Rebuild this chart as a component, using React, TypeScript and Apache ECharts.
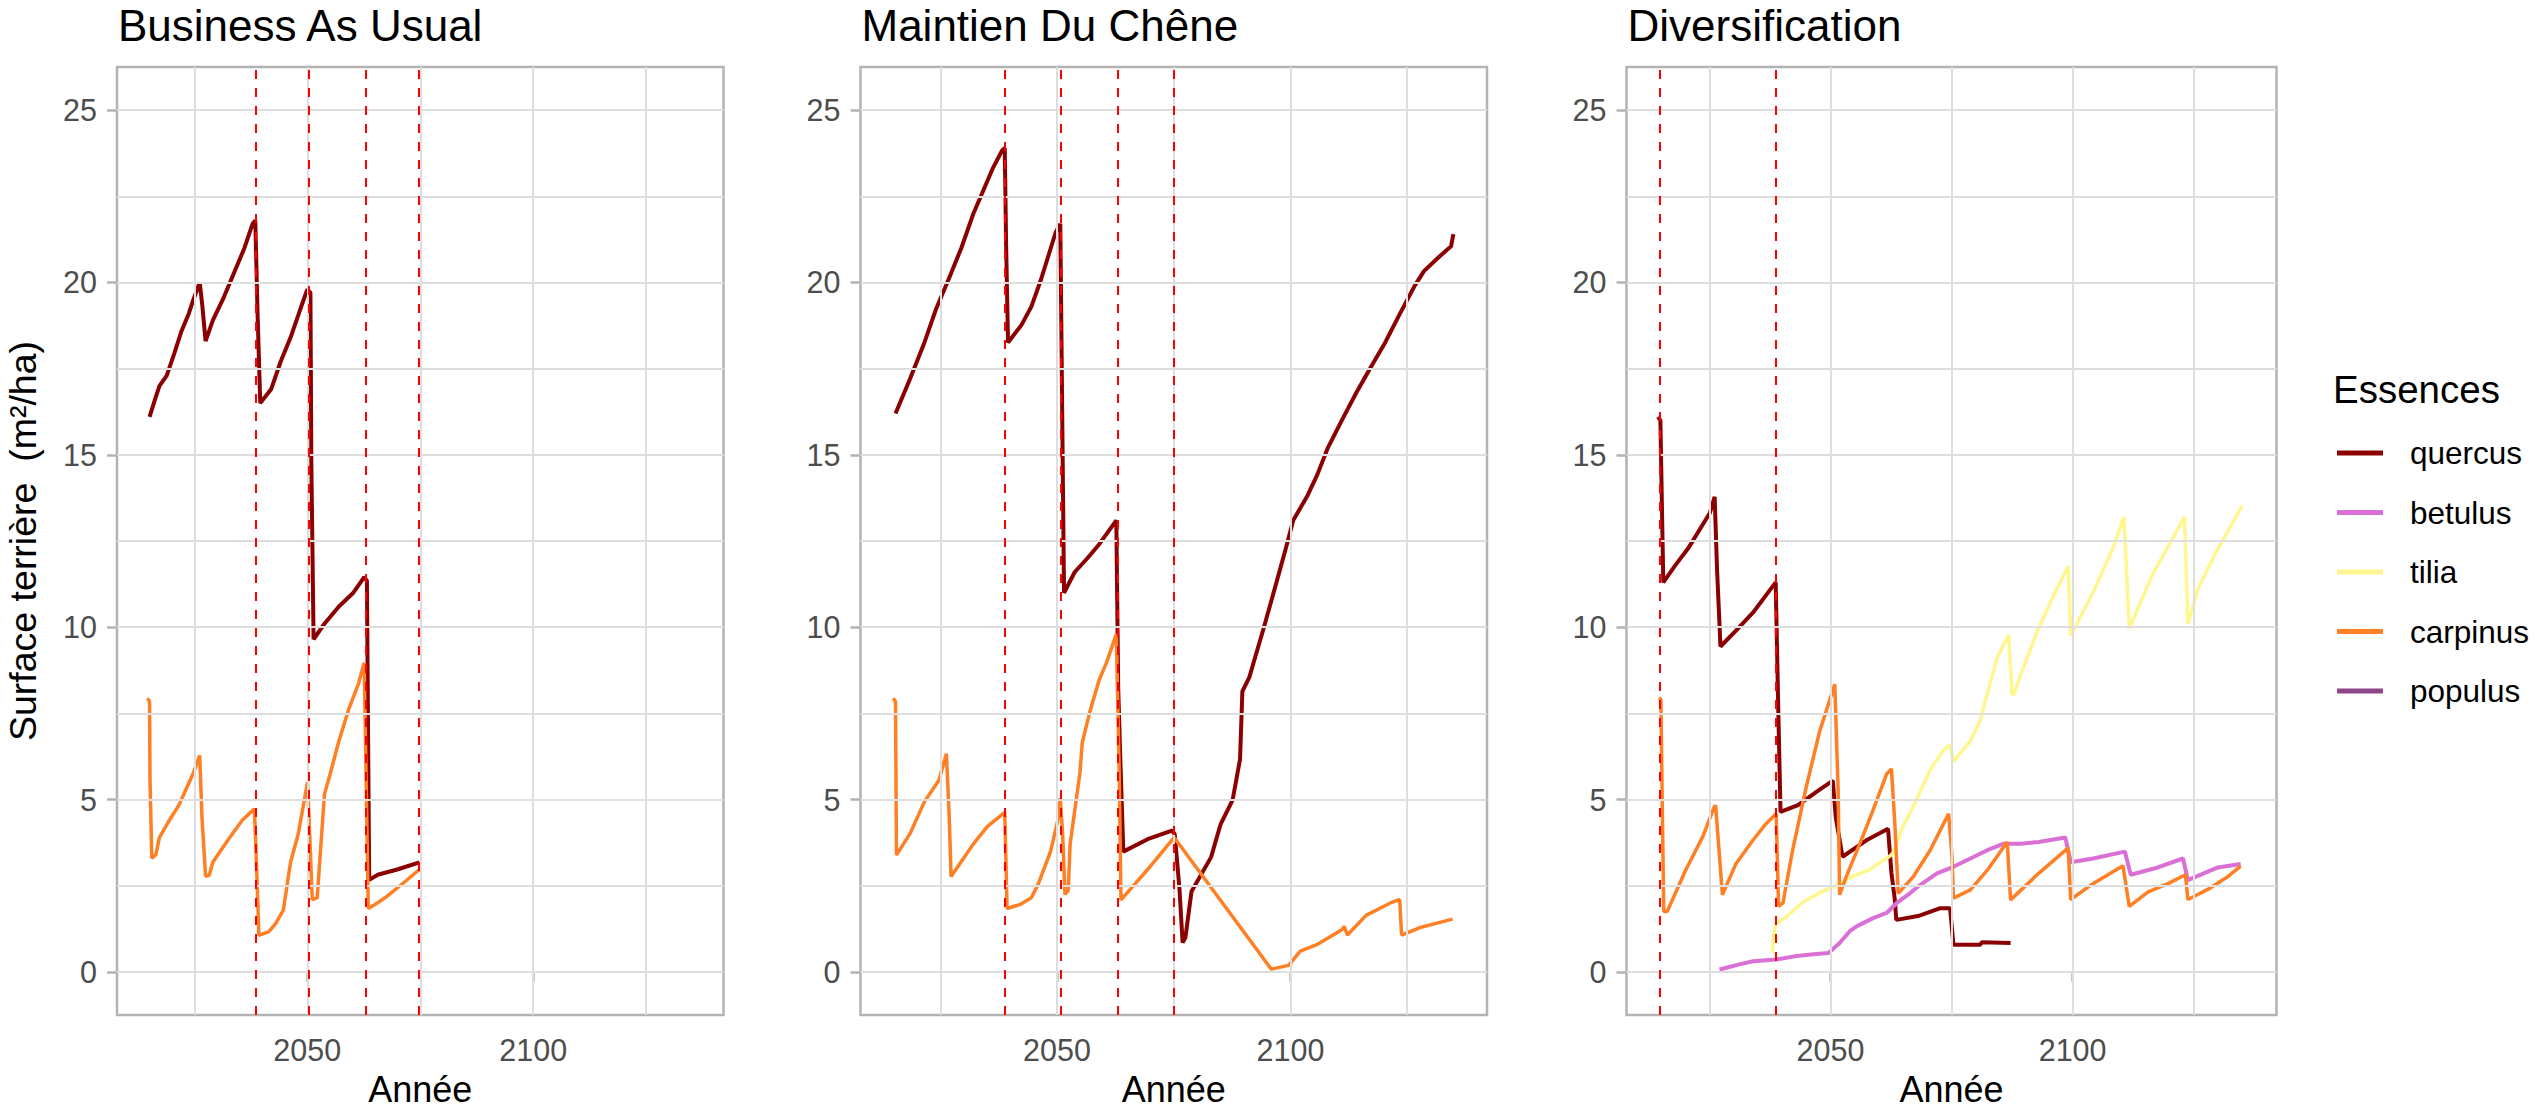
import React, { useEffect, useRef } from "react";
import * as echarts from "echarts";

const W = 2535;
const H = 1112;
const FONT = "'Liberation Sans', Arial, Helvetica, sans-serif";

// ---------- data ----------
const panelTitles = ["Business As Usual", "Maintien Du Chêne", "Diversification"];
const species = ["quercus", "betulus", "tilia", "carpinus", "populus"];
const speciesColors: Record<string, string> = {
  quercus: "#8B0000",
  betulus: "#DA70D6",
  tilia: "#FFF68F",
  carpinus: "#FF7F24",
  populus: "#8B4789",
};
const yTicks = [0, 5, 10, 15, 20, 25];
const yMinor = [2.5, 7.5, 12.5, 17.5, 22.5];
const xTicks = [2050, 2100];
const xMinor = [2025, 2075, 2125];

const bauCuts = [2038.6, 2050.4, 2062.9, 2074.7];
const mdcCuts = [2038.8, 2050.8, 2063.0, 2074.9];
const divCuts = [2014.8, 2038.8];

const bauQuercus: [number, number][] = [
  [2015.1, 16.1], [2016.3, 16.6], [2017.3, 17.0], [2018.9, 17.3], [2020.6, 17.95], [2022.2, 18.6],
  [2023.8, 19.1], [2024.8, 19.5], [2026.2, 20.0], [2026.8, 19.3], [2027.5, 18.3], [2029.1, 18.9],
  [2031.3, 19.5], [2032.9, 20.0], [2034.5, 20.5], [2036.1, 21.0], [2037.9, 21.7], [2038.5, 21.8],
  [2039.0, 19.1], [2039.6, 16.5], [2042.0, 16.9], [2044.1, 17.7], [2046.3, 18.4], [2048.4, 19.2],
  [2050.0, 19.8], [2050.7, 19.7], [2050.9, 14.8], [2051.4, 9.65], [2053.8, 10.1], [2057.0, 10.6],
  [2060.2, 11.0], [2062.6, 11.45], [2063.2, 11.35], [2063.7, 2.67], [2065.6, 2.82], [2069.9, 2.97],
  [2074.8, 3.18],
];
const bauCarpinus: [number, number][] = [
  [2014.6, 7.94], [2015.1, 7.85], [2015.2, 5.6], [2015.6, 3.3], [2016.5, 3.4], [2017.3, 3.9],
  [2019.5, 4.4], [2021.6, 4.84], [2024.8, 5.77], [2026.2, 6.28], [2026.7, 4.5], [2027.5, 2.77],
  [2028.3, 2.8], [2029.1, 3.18], [2032.3, 3.8], [2035.6, 4.4], [2038.3, 4.73], [2038.8, 3.0],
  [2039.3, 1.06], [2041.5, 1.17], [2043.0, 1.4], [2044.7, 1.79], [2046.3, 3.18], [2048.0, 4.0],
  [2050.05, 5.5], [2050.6, 3.8], [2051.1, 2.1], [2052.2, 2.15], [2053.8, 5.15], [2054.9, 5.66],
  [2057.0, 6.7], [2059.2, 7.63], [2061.3, 8.35], [2062.6, 8.97], [2063.5, 1.84], [2065.5, 2.0],
  [2067.7, 2.2], [2071.0, 2.55], [2074.8, 2.97],
];

const mdcQuercus: [number, number][] = [
  [2015.4, 16.2], [2018.5, 17.2], [2021.6, 18.26], [2024.0, 19.2], [2026.8, 20.1], [2029.5, 21.0],
  [2032.0, 21.97], [2034.0, 22.6], [2036.2, 23.3], [2038.2, 23.82], [2038.8, 23.9], [2039.1, 21.04],
  [2039.5, 18.26], [2042.4, 18.77], [2044.5, 19.3], [2046.6, 20.1], [2049.7, 21.45], [2050.7, 21.7],
  [2051.1, 16.3], [2051.5, 11.0], [2053.8, 11.6], [2056.5, 12.0], [2059.0, 12.4], [2062.7, 13.1],
  [2063.1, 8.25], [2063.6, 5.97], [2064.2, 3.49], [2069.4, 3.85], [2074.6, 4.1], [2075.2, 4.0],
  [2076.2, 2.46], [2076.9, 0.85], [2077.5, 1.0], [2078.8, 2.33], [2083.0, 3.33], [2085.0, 4.27],
  [2087.6, 4.98], [2089.2, 6.17], [2089.7, 8.14], [2091.2, 8.55], [2094.3, 9.99], [2097.0, 11.3],
  [2099.0, 12.28], [2100.6, 13.1], [2103.7, 13.83], [2105.8, 14.44], [2107.9, 15.17], [2111.0, 16.0],
  [2114.1, 16.8], [2117.2, 17.54], [2120.3, 18.26], [2123.4, 19.08], [2126.6, 19.9], [2128.6, 20.33],
  [2131.8, 20.74], [2134.4, 21.05], [2134.9, 21.4],
];
const mdcCarpinus: [number, number][] = [
  [2014.9, 7.94], [2015.4, 7.84], [2015.6, 3.39], [2018.5, 4.01], [2021.6, 4.94], [2024.7, 5.56],
  [2026.3, 6.33], [2026.9, 4.52], [2027.3, 2.77], [2029.5, 3.2], [2032.0, 3.7], [2035.1, 4.22],
  [2038.8, 4.63], [2039.3, 1.84], [2042.0, 1.95], [2044.5, 2.15], [2046.0, 2.56], [2048.6, 3.49],
  [2050.2, 4.42], [2050.7, 5.04], [2051.2, 4.0], [2051.7, 2.25], [2052.4, 2.36], [2052.8, 3.7],
  [2054.9, 5.77], [2055.4, 6.65], [2057.0, 7.53], [2059.0, 8.46], [2060.6, 8.97], [2062.7, 9.8],
  [2063.3, 5.87], [2063.7, 2.09], [2069.4, 2.97], [2075.1, 3.9], [2095.9, 0.08], [2099.6, 0.19],
  [2102.1, 0.6], [2105.8, 0.8], [2111.0, 1.22], [2111.5, 1.32], [2112.2, 1.07], [2116.2, 1.64],
  [2121.4, 2.0], [2123.4, 2.1], [2123.8, 1.07], [2127.6, 1.28], [2131.8, 1.43], [2134.7, 1.53],
];

const divQuercus: [number, number][] = [
  [2014.4, 16.1], [2014.9, 16.0], [2015.2, 13.6], [2015.5, 11.3], [2018.0, 11.8], [2020.6, 12.28],
  [2025.1, 13.31], [2026.1, 13.78], [2026.6, 11.66], [2027.3, 9.44], [2030.5, 9.9], [2034.0, 10.42],
  [2038.7, 11.3], [2039.2, 7.84], [2039.7, 4.64], [2043.3, 4.84], [2047.4, 5.25], [2050.5, 5.55],
  [2051.1, 4.49], [2052.5, 3.34], [2057.8, 3.85], [2061.9, 4.15], [2062.6, 2.87], [2063.3, 2.09],
  [2063.6, 1.51], [2068.1, 1.62], [2072.7, 1.85], [2074.7, 1.85], [2075.4, 0.79], [2080.9, 0.79],
  [2081.3, 0.86], [2087.2, 0.84],
];
const divBetulus: [number, number][] = [
  [2027.1, 0.07], [2031.0, 0.21], [2034.0, 0.31], [2038.8, 0.36], [2043.0, 0.46], [2046.5, 0.51],
  [2049.6, 0.55], [2051.9, 0.84], [2054.0, 1.18], [2055.4, 1.32], [2058.8, 1.56], [2061.6, 1.71],
  [2063.7, 2.0], [2066.4, 2.28], [2068.5, 2.52], [2072.0, 2.86], [2075.4, 3.05], [2078.9, 3.29],
  [2082.4, 3.53], [2085.8, 3.72], [2089.3, 3.72], [2093.0, 3.77], [2098.5, 3.9], [2099.6, 3.18],
  [2104.2, 3.29], [2110.8, 3.49], [2112.0, 2.82], [2117.6, 3.03], [2122.8, 3.29], [2123.8, 2.66],
  [2130.0, 3.03], [2134.7, 3.13],
];
const divTilia: [number, number][] = [
  [2038.0, 0.55], [2038.3, 1.1], [2038.8, 1.4], [2040.9, 1.6], [2044.3, 2.02], [2047.8, 2.3],
  [2051.2, 2.5], [2054.7, 2.78], [2058.1, 2.97], [2062.3, 3.36], [2062.9, 3.45], [2065.0, 4.22],
  [2067.1, 4.8], [2070.6, 5.86], [2073.3, 6.43], [2074.7, 6.58], [2075.4, 6.1], [2078.9, 6.7],
  [2080.9, 7.28], [2081.6, 7.66], [2084.4, 9.11], [2086.8, 9.78], [2087.5, 8.05], [2087.9, 8.05],
  [2089.3, 8.63], [2092.7, 9.88], [2096.0, 10.9], [2099.1, 11.77], [2099.6, 9.75], [2104.2, 11.0],
  [2108.3, 12.28], [2110.6, 13.2], [2111.7, 9.96], [2116.6, 11.56], [2120.0, 12.4], [2123.1, 13.2],
  [2123.8, 10.1], [2125.9, 11.12], [2130.0, 12.28], [2135.0, 13.52],
];
const divCarpinus: [number, number][] = [
  [2014.6, 7.95], [2015.0, 7.9], [2015.3, 4.68], [2015.6, 1.75], [2016.3, 1.75], [2020.1, 2.95],
  [2023.6, 3.91], [2026.0, 4.78], [2026.3, 4.83], [2027.0, 3.53], [2027.7, 2.24], [2030.5, 3.14],
  [2034.0, 3.82], [2036.7, 4.3], [2038.8, 4.59], [2039.3, 1.9], [2040.2, 2.0], [2042.2, 3.53],
  [2045.0, 5.36], [2047.8, 6.99], [2050.9, 8.34], [2051.6, 5.26], [2051.9, 2.24], [2053.3, 2.77],
  [2056.1, 3.73], [2058.8, 4.69], [2061.6, 5.74], [2062.6, 5.89], [2063.3, 4.3], [2064.0, 2.28],
  [2067.1, 2.76], [2070.6, 3.53], [2074.4, 4.59], [2075.1, 3.34], [2075.4, 2.14], [2078.9, 2.38],
  [2082.4, 2.95], [2086.5, 3.77], [2087.2, 2.09], [2093.0, 2.86], [2099.1, 3.6], [2099.6, 2.1],
  [2104.2, 2.56], [2110.4, 3.08], [2111.7, 1.9], [2115.6, 2.32], [2119.7, 2.56], [2123.3, 2.82],
  [2123.8, 2.1], [2128.0, 2.4], [2132.1, 2.77], [2134.7, 3.07],
];
const divPopulus: [number, number][] = [];

// ---------- layout ----------
const X_MIN = 2007.9;
const X_MAX = 2142.1;
const Y_MIN = -1.25;
const Y_MAX = 26.25;
const PLOT_TOP = 67;
const PLOT_H = 952;
const grids = [
  { left: 117, width: 606.5 },
  { left: 860.5, width: 626.5 },
  { left: 1626.5, width: 650 },
];

const panels = [
  { cuts: bauCuts, series: [["quercus", bauQuercus], ["carpinus", bauCarpinus]] },
  { cuts: mdcCuts, series: [["quercus", mdcQuercus], ["carpinus", mdcCarpinus]] },
  {
    cuts: divCuts,
    series: [
      ["quercus", divQuercus], ["betulus", divBetulus], ["tilia", divTilia],
      ["carpinus", divCarpinus], ["populus", divPopulus],
    ],
  },
];

const lineWidths: Record<string, number> = { quercus: 4, betulus: 4, tilia: 3.5, carpinus: 3.5, populus: 3.5 };

function buildOption(): echarts.EChartsCoreOption {
  const gridStyle = { color: "#DEDEDE", width: 2, type: "solid" };
  const series: any[] = [];
  panels.forEach((p, i) => {
    series.push({
      type: "line",
      name: "_grid" + i,
      xAxisIndex: i,
      yAxisIndex: i,
      data: [],
      silent: true,
      z: 1,
      markLine: {
        silent: true,
        symbol: ["none", "none"],
        label: { show: false },
        lineStyle: gridStyle,
        emphasis: { disabled: true },
        data: [
          ...yTicks.map((v) => ({ yAxis: v })),
          ...yMinor.map((v) => ({ yAxis: v })),
          ...xTicks.map((v) => ({ xAxis: v })),
          ...xMinor.map((v) => ({ xAxis: v })),
        ],
      },
    });
    p.series.forEach(([name, data]) => {
      series.push({
        type: "line",
        name,
        xAxisIndex: i,
        yAxisIndex: i,
        data,
        symbol: "none",
        showSymbol: false,
        silent: true,
        z: 3,
        lineStyle: { width: lineWidths[name as string], color: speciesColors[name as string] },
        itemStyle: { color: speciesColors[name as string] },
      });
    });
    series.push({
      type: "line",
      name: "_cuts" + i,
      xAxisIndex: i,
      yAxisIndex: i,
      data: [],
      silent: true,
      z: 5,
      markLine: {
        silent: true,
        symbol: ["none", "none"],
        label: { show: false },
        emphasis: { disabled: true },
        lineStyle: { color: "#FF0000", width: 2, type: [9, 9] },
        data: p.cuts.map((v) => ({ xAxis: v })),
      },
    });
  });

  return {
    animation: false,
    backgroundColor: "#ffffff",
    textStyle: { fontFamily: FONT },
    title: [
      ...panelTitles.map((t, i) => ({
        text: t,
        left: grids[i].left + 1,
        top: 3,
        padding: 0,
        textStyle: { fontSize: 44, fontWeight: "normal", color: "#000", fontFamily: FONT },
      })),
      {
        text: "Essences",
        left: 2333,
        top: 370,
        padding: 0,
        textStyle: { fontSize: 38.5, fontWeight: "normal", color: "#000", fontFamily: FONT },
      },
    ],
    legend: {
      data: species,
      orient: "vertical",
      left: 2337,
      top: 437,
      padding: 0,
      icon: "rect",
      itemWidth: 46,
      itemHeight: 5,
      itemGap: 27.5,
      selectedMode: false,
      textStyle: { fontSize: 31.5, color: "#000", fontFamily: FONT, padding: [0, 0, 0, 22] },
    },
    grid: grids.map((g) => ({
      left: g.left,
      top: PLOT_TOP,
      width: g.width,
      height: PLOT_H,
      show: true,
      backgroundColor: "#ffffff",
      borderColor: "#B3B3B3",
      borderWidth: 2.5,
      containLabel: false,
    })),
    xAxis: grids.map((_, i) => ({
      type: "value",
      gridIndex: i,
      min: X_MIN,
      max: X_MAX,
      axisLine: { show: false },
      axisTick: {
        show: true,
        customValues: xTicks,
        length: 10,
        lineStyle: { color: "#B3B3B3", width: 2.5 },
      },
      axisLabel: {
        customValues: xTicks,
        formatter: (v: number) => String(v),
        fontSize: 30.5,
        color: "#4D4D4D",
        margin: 19,
        fontFamily: FONT,
      },
      splitLine: { show: false },
      name: "Année",
      nameLocation: "middle",
      nameGap: 56,
      nameTextStyle: { fontSize: 36, color: "#000", fontFamily: FONT },
    })),
    yAxis: grids.map((_, i) => ({
      type: "value",
      gridIndex: i,
      min: Y_MIN,
      max: Y_MAX,
      axisLine: { show: false },
      axisTick: {
        show: true,
        customValues: yTicks,
        length: 10,
        lineStyle: { color: "#B3B3B3", width: 2.5 },
      },
      axisLabel: {
        customValues: yTicks,
        formatter: (v: number) => String(v),
        fontSize: 30.5,
        color: "#4D4D4D",
        margin: 20,
        fontFamily: FONT,
      },
      splitLine: { show: false },
      name: i === 0 ? "Surface terrière  (m²/ha)" : "",
      nameLocation: "middle",
      nameGap: 75,
      nameRotate: 90,
      nameTextStyle: { fontSize: 37.5, color: "#000", fontFamily: FONT },
    })),
    series,
  };
}

export default function App() {
  const ref = useRef<HTMLDivElement>(null);
  useEffect(() => {
    document.body.style.margin = "0";
    const chart = echarts.init(ref.current!, null, { renderer: "svg", width: W, height: H });
    chart.setOption(buildOption());
    return () => chart.dispose();
  }, []);
  return (
    <div
      ref={ref}
      style={{ position: "absolute", left: 0, top: 0, width: W, height: H, background: "#fff" }}
    />
  );
}
